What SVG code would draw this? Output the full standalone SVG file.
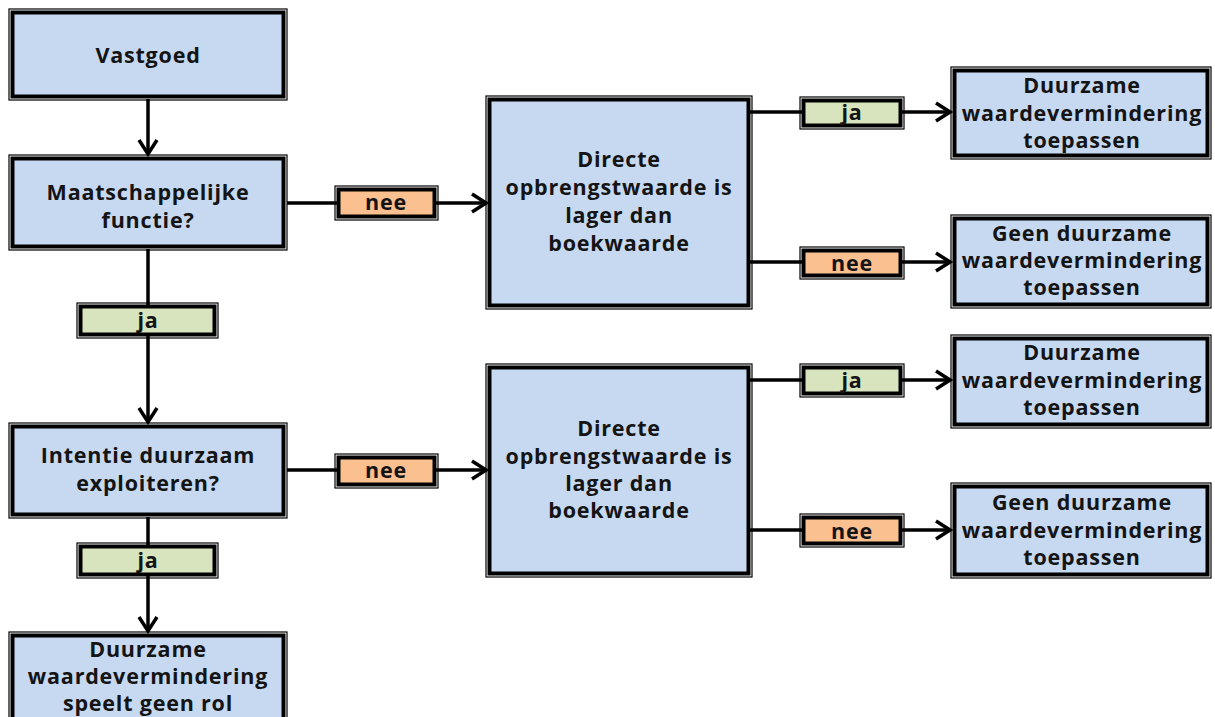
<svg xmlns="http://www.w3.org/2000/svg" width="1215" height="717" viewBox="0 0 1215 717">
<defs>
<style>
.box{fill:#C6D9F1;stroke:#000;stroke-width:4}
.outer{fill:none;stroke:#000;stroke-width:1.2}
.ja{fill:#D7E4BD;stroke:#000;stroke-width:4}
.nee{fill:#FAC090;stroke:#000;stroke-width:4}
.t{font-family:"Open Sans","Liberation Sans",sans-serif;font-weight:700;font-size:21.5px;letter-spacing:0.8px;fill:#141414;text-anchor:middle}
.c{fill:none;stroke:#000;stroke-width:3.5}
</style>
<marker id="ah" markerWidth="20" markerHeight="22" refX="17" refY="11" orient="auto" markerUnits="userSpaceOnUse">
<path d="M3,2 L17,11 L3,20" fill="none" stroke="#000" stroke-width="3.5"/>
</marker>
</defs>
<g id="connectors">
<path class="c" d="M148,99 V154" marker-end="url(#ah)"/>
<path class="c" d="M148,249 V422" marker-end="url(#ah)"/>
<path class="c" d="M148,517 V631" marker-end="url(#ah)"/>
<path class="c" d="M287,203 H486" marker-end="url(#ah)"/>
<path class="c" d="M287,470 H486" marker-end="url(#ah)"/>
<path class="c" d="M750,112 H950" marker-end="url(#ah)"/>
<path class="c" d="M750,262 H950" marker-end="url(#ah)"/>
<path class="c" d="M750,380 H950" marker-end="url(#ah)"/>
<path class="c" d="M750,530 H950" marker-end="url(#ah)"/>
</g>
<g id="n-vastgoed">
<rect class="outer" x="9" y="9" width="278" height="91"/>
<rect class="box" x="12.5" y="12.5" width="271" height="84"/>
<text class="t" x="148" y="63">Vastgoed</text>
</g>
<g id="n-maatschappelijk">
<rect class="outer" x="9" y="155" width="278" height="95"/>
<rect class="box" x="12.5" y="158.5" width="271" height="88"/>
<text class="t" x="148" y="200">Maatschappelijke</text>
<text class="t" x="148" y="228">functie?</text>
</g>
<g id="l-ja1">
<rect class="outer" x="77" y="303" width="141" height="35"/>
<rect class="ja" x="80.5" y="306.5" width="134" height="28"/>
<text class="t" x="148" y="328">ja</text>
</g>
<g id="n-intentie">
<rect class="outer" x="9" y="423" width="278" height="95"/>
<rect class="box" x="12.5" y="426.5" width="271" height="88"/>
<text class="t" x="148" y="463">Intentie duurzaam</text>
<text class="t" x="148" y="491">exploiteren?</text>
</g>
<g id="l-ja2">
<rect class="outer" x="77" y="543" width="141" height="35"/>
<rect class="ja" x="80.5" y="546.5" width="134" height="28"/>
<text class="t" x="148" y="568">ja</text>
</g>
<g id="n-geenrol">
<rect class="outer" x="9" y="632" width="278" height="95"/>
<rect class="box" x="12.5" y="635.5" width="271" height="88"/>
<text class="t" x="148" y="657">Duurzame</text>
<text class="t" x="148" y="684">waardevermindering</text>
<text class="t" x="148" y="711">speelt geen rol</text>
</g>
<g id="l-nee1">
<rect class="outer" x="335" y="186" width="103" height="34"/>
<rect class="nee" x="338.5" y="189.5" width="96" height="27"/>
<text class="t" x="386" y="210">nee</text>
</g>
<g id="l-nee2">
<rect class="outer" x="335" y="454" width="103" height="34"/>
<rect class="nee" x="338.5" y="457.5" width="96" height="27"/>
<text class="t" x="386" y="478">nee</text>
</g>
<g id="n-directe1">
<rect class="outer" x="486" y="96" width="266" height="213"/>
<rect class="box" x="489.5" y="99.5" width="259" height="206"/>
<text class="t" x="619" y="167">Directe</text>
<text class="t" x="619" y="195">opbrengstwaarde is</text>
<text class="t" x="619" y="223">lager dan</text>
<text class="t" x="619" y="251">boekwaarde</text>
</g>
<g id="n-directe2">
<rect class="outer" x="486" y="364" width="266" height="213"/>
<rect class="box" x="489.5" y="367.5" width="259" height="206"/>
<text class="t" x="619" y="436">Directe</text>
<text class="t" x="619" y="464">opbrengstwaarde is</text>
<text class="t" x="619" y="491">lager dan</text>
<text class="t" x="619" y="518">boekwaarde</text>
</g>
<g id="l-ja3">
<rect class="outer" x="800" y="97" width="104" height="32"/>
<rect class="ja" x="803.5" y="100.5" width="97" height="25"/>
<text class="t" x="852" y="120">ja</text>
</g>
<g id="l-nee3">
<rect class="outer" x="800" y="247" width="104" height="32"/>
<rect class="nee" x="803.5" y="250.5" width="97" height="25"/>
<text class="t" x="852" y="271">nee</text>
</g>
<g id="l-ja4">
<rect class="outer" x="800" y="364" width="104" height="33"/>
<rect class="ja" x="803.5" y="367.5" width="97" height="26"/>
<text class="t" x="852" y="388">ja</text>
</g>
<g id="l-nee4">
<rect class="outer" x="800" y="514" width="104" height="33"/>
<rect class="nee" x="803.5" y="517.5" width="97" height="26"/>
<text class="t" x="852" y="539">nee</text>
</g>
<g id="n-toepassen1">
<rect class="outer" x="951" y="67" width="260" height="92"/>
<rect class="box" x="954.5" y="70.5" width="253" height="85"/>
<text class="t" x="1082" y="93">Duurzame</text>
<text class="t" x="1082" y="121">waardevermindering</text>
<text class="t" x="1082" y="148">toepassen</text>
</g>
<g id="n-geen1">
<rect class="outer" x="951" y="215" width="260" height="93"/>
<rect class="box" x="954.5" y="218.5" width="253" height="86"/>
<text class="t" x="1082" y="241">Geen duurzame</text>
<text class="t" x="1082" y="268">waardevermindering</text>
<text class="t" x="1082" y="295">toepassen</text>
</g>
<g id="n-toepassen2">
<rect class="outer" x="951" y="335" width="260" height="93"/>
<rect class="box" x="954.5" y="338.5" width="253" height="86"/>
<text class="t" x="1082" y="360">Duurzame</text>
<text class="t" x="1082" y="388">waardevermindering</text>
<text class="t" x="1082" y="415">toepassen</text>
</g>
<g id="n-geen2">
<rect class="outer" x="951" y="483" width="260" height="95"/>
<rect class="box" x="954.5" y="486.5" width="253" height="88"/>
<text class="t" x="1082" y="510">Geen duurzame</text>
<text class="t" x="1082" y="538">waardevermindering</text>
<text class="t" x="1082" y="565">toepassen</text>
</g>
</svg>
